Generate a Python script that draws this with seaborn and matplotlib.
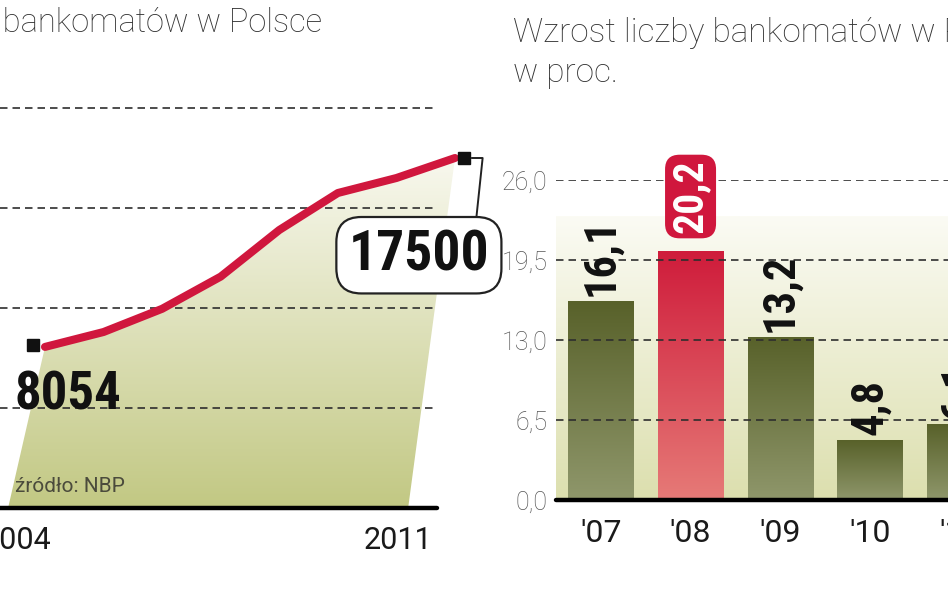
import numpy as np
import matplotlib.pyplot as plt
import matplotlib.transforms as mtransforms
from matplotlib.colors import LinearSegmentedColormap
from matplotlib.patches import Polygon
import seaborn as sns

# liczba bankomatów w Polsce (NBP)
years = [2004, 2005, 2006, 2007, 2008, 2009, 2010, 2011]
atms = [8054, 8800, 9960, 11570, 13900, 15750, 16500, 17500]
atm_grid = [5000, 10000, 15000, 20000]
year_labels = ['2004', '2011']

# wzrost liczby bankomatów, w proc.
growth_years = ["'07", "'08", "'09", "'10", "'11"]
growth = [16.1, 20.2, 13.2, 4.8, 6.1]
growth_labels = ['16,1', '20,2', '13,2', '4,8', '6,1']
growth_ticks = [0.0, 6.5, 13.0, 19.5, 26.0]
growth_tick_labels = ['0,0', '6,5', '13,0', '19,5', '26,0']
highlight = "'08"

sns.set_style('white')
plt.rcParams['font.family'] = ['Roboto', 'DejaVu Sans']

W, H = 948, 593
fig = plt.figure(figsize=(W / 100, H / 100), dpi=100)


def px_box(x0, y0, x1, y1):
    # pixel box (top-left origin) -> figure fraction rect
    return [x0 / W, 1 - y1 / H, (x1 - x0) / W, (y1 - y0) / H]


RED = '#d0173d'
GRID = '#2e2e2e'
DASH = (0, (4.5, 3))
NUM = ['Roboto Condensed', 'DejaVu Sans']
grad = np.linspace(0, 1, 256).reshape(-1, 1)

# ---------------- left panel: line ----------------
ax = fig.add_axes(px_box(0, 88, 470, 508))

poly_xy = np.vstack([np.column_stack([years, atms]),
                     [years[-1] - 0.8, 0], [years[0] - 0.63, 0]])
poly = Polygon(poly_xy, closed=True, fc='none', ec='none')
ax.add_patch(poly)
fill_cmap = LinearSegmentedColormap.from_list('fill', ['#c2c883', '#f8f8ee'])
im = ax.imshow(grad, cmap=fill_cmap, origin='lower', aspect='auto',
               extent=[years[0] - 1, years[-1] + 1, 0, max(atms)], zorder=1)
im.set_clip_path(poly)

for g in atm_grid:
    ax.axhline(g, xmax=437 / 470, color=GRID, lw=1.2, ls=DASH, zorder=2)
ax.axhline(0, xmax=437 / 470, color='black', lw=3.2, zorder=4, clip_on=False)

sns.lineplot(x=years, y=atms, ax=ax, color=RED, lw=5.8, zorder=5)

start_tr = mtransforms.offset_copy(ax.transData, fig=fig, x=-12, y=2, units='dots')
end_tr = mtransforms.offset_copy(ax.transData, fig=fig, x=9, y=0, units='dots')
ax.plot(years[0], atms[0], 's', color='#111', ms=8.5, transform=start_tr,
        zorder=6, clip_on=False)
ax.plot(years[-1], atms[-1], 's', color='#111', ms=8.5, transform=end_tr,
        zorder=6, clip_on=False)

ax.annotate(f'{atms[-1]}', xy=(years[-1], atms[-1]), xytext=(-26, -70),
            textcoords='offset points', ha='center', va='center',
            fontsize=40, fontweight='bold', family=NUM, color='#111',
            bbox=dict(boxstyle='round,pad=0.22,rounding_size=0.45',
                      fc='white', ec='#222', lw=1.6),
            arrowprops=dict(arrowstyle='-', color='#222', lw=1.4, relpos=(0.9, 1.0),
                            connectionstyle='angle,angleA=84,angleB=0,rad=0',
                            shrinkA=0, shrinkB=12),
            zorder=7)
ax.annotate(f'{atms[0]}', xy=(years[0], atms[0]), xytext=(-22, -45),
            textcoords='offset points', ha='left', va='baseline',
            fontsize=38, fontweight='bold', family=NUM, color='#111', zorder=7)

ax.set_xlim(2003.232, 2011.256)
ax.set_ylim(0, 21000)
ax.set_xticks([years[0] - 0.48, years[-1] - 0.97])
ax.set_xticklabels(year_labels, fontsize=22, color='#1a1a1a')
ax.set_yticks([])
ax.tick_params(axis='x', length=0, pad=13)
sns.despine(ax=ax, left=True, bottom=True)
ax.patch.set_visible(False)

fig.text(15 / W, 1 - 492 / H, 'źródło: NBP', fontsize=15, color='#4b4b3c',
         va='baseline')
fig.text(322 / W, 1 - 32 / H, 'Liczba bankomatów w Polsce', ha='right',
         va='baseline', fontsize=23.5, fontweight='light', color='#333')

# ---------------- right panel: bars ----------------
ax2 = fig.add_axes(px_box(556, 180, 556 + 5 * 89.7, 500))

bg_cmap = LinearSegmentedColormap.from_list('bg', ['#dcdfae', '#fbfbf4'])
ax2.imshow(grad, cmap=bg_cmap, origin='lower', aspect='auto',
           extent=[-0.5, len(growth_years) - 0.5, 0, 23], zorder=0)

pal = {c: (RED if c == highlight else '#6b7338') for c in growth_years}
sns.barplot(x=growth_years, y=growth, hue=growth_years, palette=pal,
            width=0.725, legend=False, ax=ax2, zorder=1)

green_cmap = LinearSegmentedColormap.from_list('g', ['#8f976b', '#58612a'])
red_cmap = LinearSegmentedColormap.from_list('r', ['#e67a77', '#cf1c3b'])
for cat, cont in zip(growth_years, ax2.containers):
    for bar in cont:
        x0, w, h = bar.get_x(), bar.get_width(), bar.get_height()
        ax2.imshow(grad, cmap=red_cmap if cat == highlight else green_cmap,
                   origin='lower', aspect='auto', extent=[x0, x0 + w, 0, h], zorder=1.5)
        bar.set_visible(False)

for g in growth_ticks[1:]:
    ax2.axhline(g, color=GRID, lw=1.2, ls=DASH, zorder=3)
ax2.axhline(0, color='black', lw=3.2, zorder=4, clip_on=False)

for i, (cat, v, lab) in enumerate(zip(growth_years, growth, growth_labels)):
    if cat == highlight:
        ax2.annotate(lab, xy=(i, v), xytext=(0, 13), textcoords='offset points',
                     rotation=90, ha='center', va='bottom', color='white',
                     fontsize=30, fontweight='bold', family=NUM, zorder=6,
                     bbox=dict(boxstyle='round,pad=0.12,rounding_size=0.35',
                               fc=RED, ec='none'))
    else:
        ax2.annotate(lab, xy=(i, v), xytext=(0, 4), textcoords='offset points',
                     rotation=90, ha='center', va='bottom', color='#111',
                     fontsize=32, fontweight='bold', family=NUM, zorder=6)

ax2.set_xlim(-0.5, len(growth_years) - 0.5)
ax2.set_ylim(0, 26)
ax2.set_yticks(growth_ticks)
ax2.set_yticklabels(growth_tick_labels, fontsize=18, fontweight='light', color='#555')
ax2.set_xticks(range(len(growth_years)))
ax2.set_xticklabels(growth_years, fontsize=23, color='#1a1a1a')
ax2.tick_params(axis='y', length=0, pad=6)
ax2.tick_params(axis='x', length=0, pad=14)
ax2.set_xlabel('')
ax2.set_ylabel('')
sns.despine(ax=ax2, left=True, bottom=True)
ax2.patch.set_visible(False)

fig.text(513 / W, 1 - 42 / H, 'Wzrost liczby bankomatów w Polsce', va='baseline',
         fontsize=24, fontweight='light', color='#333')
fig.text(513 / W, 1 - 82 / H, 'w proc.', va='baseline',
         fontsize=24, fontweight='light', color='#333')

fig.savefig('out.png', dpi=100)
